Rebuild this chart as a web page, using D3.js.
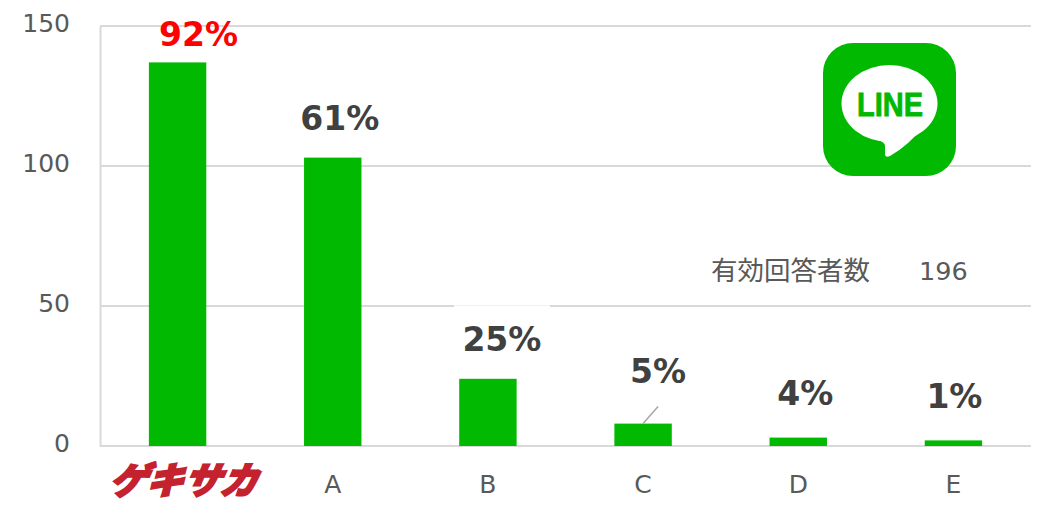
<!DOCTYPE html>
<html>
<head>
<meta charset="utf-8">
<script src="https://cdn.jsdelivr.net/npm/d3@7"></script>
<style>
  html, body { margin: 0; background: #fff; }
  text { font-family: "DejaVu Sans", sans-serif; }
</style>
</head>
<body>
<div id="chart"></div>
<script>
// Data
const categories = ["ゲキサカ", "A", "B", "C", "D", "E"];
const values = [137, 103, 24, 8, 3, 2];
const shareLabels = ["92%", "61%", "25%", "5%", "4%", "1%"];
const yTicks = [0, 50, 100, 150];

(function() {
  const W = 1038, H = 507;
  const plotL = 100, plotR = 1031, plotT = 26, plotB = 446;
  const GREEN = "#00b900", GRID = "#d9d9d9", INK = "#595959", DARK = "#404040";

  const svg = d3.select("#chart").append("svg")
    .attr("width", W).attr("height", H)
    .style("display", "block");

  const x = d3.scaleBand().domain(categories).range([plotL, plotR]).paddingInner(0.63).paddingOuter(0.315);
  const y = d3.scaleLinear().domain([0, 150]).range([plotB, plotT]);
  const mid = c => x(c) + x.bandwidth() / 2;

  // Gridlines
  svg.append("g").selectAll("line").data(yTicks).join("line")
    .attr("x1", plotL).attr("x2", plotR)
    .attr("y1", d => y(d)).attr("y2", d => y(d))
    .attr("stroke", GRID).attr("stroke-width", 2);

  // Left axis
  const yAxis = svg.append("g")
    .attr("transform", `translate(${plotL},0)`)
    .call(d3.axisLeft(y).tickValues(yTicks).tickSize(0).tickPadding(30));
  yAxis.select(".domain").attr("stroke", GRID).attr("stroke-width", 2);
  yAxis.selectAll("text")
    .style("font-size", "25px").style("fill", INK)
    .attr("dy", "0.2em");

  // White label background that cuts the 50 gridline above B
  svg.append("rect")
    .attr("x", 454).attr("y", y(50) - 0.6)
    .attr("width", 96).attr("height", 3)
    .attr("fill", "#fff");

  // Bars
  svg.append("g").selectAll("rect").data(values).join("rect")
    .attr("x", (d, i) => x(categories[i]))
    .attr("y", d => y(d))
    .attr("width", x.bandwidth())
    .attr("height", d => y(0) - y(d))
    .attr("fill", GREEN);

  // Leader line for C
  svg.append("line")
    .attr("x1", mid("C")).attr("y1", y(values[3]))
    .attr("x2", mid("C") + 15).attr("y2", y(values[3]) - 17)
    .attr("stroke", "#a6a6a6").attr("stroke-width", 1.5);

  // Share labels, hand placed like the original
  const nudgeX = [21, 7, 14, 15, 7, 1];
  const nudgeY = [16, 28, 28, 41, 33, 32];
  svg.append("g").selectAll("text").data(shareLabels).join("text")
    .attr("x", (d, i) => mid(categories[i]) + nudgeX[i])
    .attr("y", (d, i) => y(values[i]) - nudgeY[i])
    .attr("text-anchor", "middle")
    .style("font-size", "33px").style("font-weight", "700")
    .style("fill", (d, i) => i === 0 ? "#ff0000" : DARK)
    .text(d => d);

  // Bottom axis
  const xAxis = svg.append("g")
    .attr("transform", `translate(0,${plotB})`)
    .call(d3.axisBottom(x).tickSize(0).tickPadding(29));
  xAxis.select(".domain").remove();
  xAxis.selectAll("text")
    .style("font-size", "25px").style("fill", INK);

  // First category is the red slanted logotype
  xAxis.selectAll("text").filter(d => d === categories[0])
    .attr("transform", "translate(4,48) skewX(-24)")
    .attr("y", 0).attr("dy", 0)
    .style("font-family", '"Noto Sans CJK JP", sans-serif')
    .style("font-size", "37px").style("font-weight", "900")
    .style("fill", "#c4222e").style("stroke", "#c4222e").style("stroke-width", 2);

  // Respondents note
  svg.append("text").attr("x", 711).attr("y", 280)
    .style("font-family", '"Noto Sans CJK JP", sans-serif')
    .style("font-size", "26.5px").style("fill", INK).text("有効回答者数");
  svg.append("text").attr("x", 919).attr("y", 280)
    .style("font-size", "25.5px").style("fill", INK).text("196");

  // LINE icon
  const logo = svg.append("g").attr("transform", "translate(823,43)");
  logo.append("rect").attr("width", 133).attr("height", 133).attr("rx", 30).attr("fill", GREEN);
  logo.append("ellipse").attr("cx", 66.5).attr("cy", 60.5).attr("rx", 48).attr("ry", 38.5).attr("fill", "#fff");
  logo.append("path").attr("fill", "#fff")
    .attr("d", "M40 92 Q62 97 62 103 L62 112 Q63 115 67 113 Q85 103 102 82 Z");
  logo.append("text").attr("x", 67).attr("y", 73)
    .attr("text-anchor", "middle")
    .attr("textLength", 66).attr("lengthAdjust", "spacingAndGlyphs")
    .style("font-family", '"Liberation Sans", sans-serif')
    .style("font-size", "33px").style("font-weight", "700")
    .style("fill", GREEN).style("stroke", GREEN).style("stroke-width", 0.8)
    .text("LINE");
})();
</script>
</body>
</html>
